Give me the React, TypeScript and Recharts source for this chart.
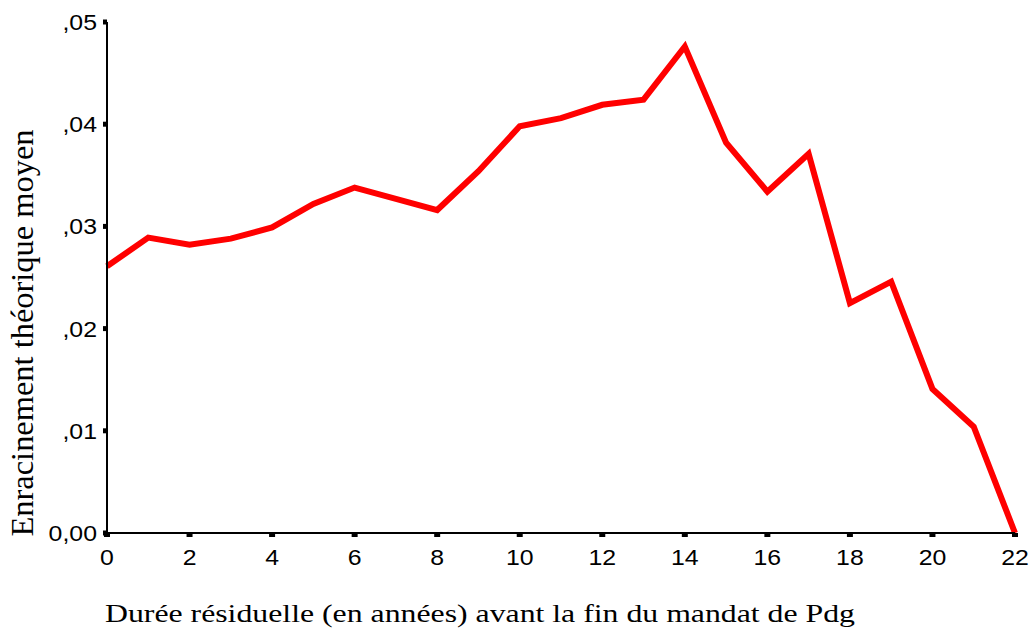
import React from "react";
import { LineChart, Line, XAxis, YAxis } from "recharts";

const years = [0, 1, 2, 3, 4, 5, 6, 7, 8, 9, 10, 11, 12, 13, 14, 15, 16, 17, 18, 19, 20, 21, 22];
const enracinement = [
  0.0261, 0.0289, 0.0282, 0.0288, 0.0299, 0.0322, 0.0338, 0.0327, 0.0316, 0.0354,
  0.0398, 0.0406, 0.0419, 0.0424, 0.0476, 0.0382, 0.0334, 0.0371, 0.0225, 0.0246,
  0.0141, 0.0104, 0.0,
];
const xTicks = [0, 2, 4, 6, 8, 10, 12, 14, 16, 18, 20, 22];
const yTicks = [0, 0.01, 0.02, 0.03, 0.04, 0.05];
const yTickLabels = ["0,00", ",01", ",02", ",03", ",04", ",05"];

const data = years.map((y, i) => ({ year: y, value: enracinement[i] }));

const fmtY = (v: number) => {
  const idx = yTicks.findIndex((t) => Math.abs(t - v) < 1e-9);
  return idx >= 0 ? yTickLabels[idx] : String(v);
};

const SANS = "Liberation Sans, Arial, sans-serif";
const SERIF = "Liberation Serif, Times New Roman, serif";
const STRETCH = 1.13;

const XTick = (props: any) => {
  const { x, payload } = props;
  return (
    <text
      transform={`translate(${x}, 565) scale(${STRETCH}, 1)`}
      textAnchor="middle"
      fontFamily={SANS}
      fontSize={22}
      fill="#000"
    >
      {String(payload.value)}
    </text>
  );
};

const YTick = (props: any) => {
  const { y, payload } = props;
  return (
    <text
      transform={`translate(97, ${y + 8}) scale(${STRETCH}, 1)`}
      textAnchor="end"
      fontFamily={SANS}
      fontSize={22}
      fill="#000"
    >
      {fmtY(payload.value)}
    </text>
  );
};

export default function App() {
  return (
    <div style={{ position: "absolute", left: 0, top: 0, width: 1032, height: 628, background: "#fff" }}>
      <LineChart
        width={1032}
        height={628}
        data={data}
        margin={{ top: 22, right: 17, bottom: 65, left: 0 }}
      >
        <XAxis
          dataKey="year"
          type="number"
          domain={[0, 22]}
          ticks={xTicks}
          interval={0}
          height={30}
          tickSize={4}
          tickMargin={0}
          axisLine={{ stroke: "#000", strokeWidth: 2 }}
          tickLine={{ stroke: "#000", strokeWidth: 6 }}
          tick={<XTick />}
        />
        <YAxis
          type="number"
          domain={[0, 0.05]}
          ticks={yTicks}
          interval={0}
          width={107}
          tickSize={4}
          tickMargin={0}
          axisLine={{ stroke: "#000", strokeWidth: 2 }}
          tickLine={{ stroke: "#000", strokeWidth: 5 }}
          tick={<YTick />}
        />
        <Line
          type="linear"
          dataKey="value"
          stroke="#ff0000"
          strokeWidth={6}
          dot={false}
          activeDot={false}
          isAnimationActive={false}
          strokeLinejoin="miter"
        />
        <text
          x={480}
          y={622}
          textAnchor="middle"
          fontFamily={SERIF}
          fontSize={26}
          fill="#000"
          textLength={750}
          lengthAdjust="spacingAndGlyphs"
        >
          Durée résiduelle (en années) avant la fin du mandat de Pdg
        </text>
        <text
          x={33}
          y={333}
          textAnchor="middle"
          transform="rotate(-90, 33, 333)"
          fontFamily={SERIF}
          fontSize={31}
          fill="#000"
          textLength={407}
          lengthAdjust="spacingAndGlyphs"
        >
          Enracinement théorique moyen
        </text>
      </LineChart>
    </div>
  );
}
